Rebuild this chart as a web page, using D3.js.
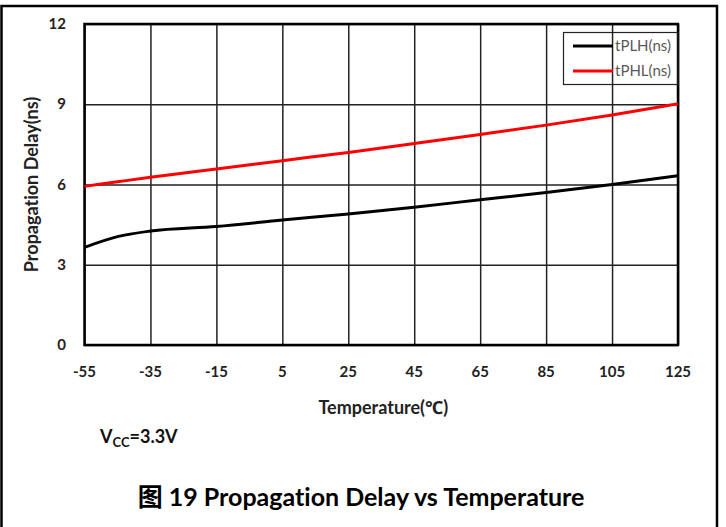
<!DOCTYPE html>
<html lang="en">
    <head>
        <meta charset="utf-8">
        <title>Propagation Delay vs Temperature</title>
        <script type="text/javascript" src="https://cdn.jsdelivr.net/npm/d3@7"></script>
        <style>
            body { margin: 0; background: #fff; }
            svg text { font-family: Lato, "Noto Sans", "Noto Sans CJK SC", sans-serif; font-variant-ligatures: none; }
        </style>
    </head>
    <body>
        <script type="text/javascript">
            //Width and height
            var w = 726;
            var h = 527;

            // values
            var temps = [-55, -45, -35, -15, 5, 25, 45, 65, 85, 105, 125];
            var tPLH = [3.65, 4.05, 4.26, 4.43, 4.67, 4.9, 5.15, 5.43, 5.7, 6.0, 6.33];
            var tPHL = [5.93, 6.1, 6.27, 6.58, 6.89, 7.2, 7.53, 7.87, 8.22, 8.6, 9.02];
            var xTicks = [-55, -35, -15, 5, 25, 45, 65, 85, 105, 125];
            var yTicks = [0, 3, 6, 9, 12];
            var seriesNames = ["tPLH(ns)", "tPHL(ns)"];
            var seriesColors = ["#000000", "#ff0000"];

            var plotLeft = 84.5, plotRight = 678, plotTop = 24, plotBottom = 345;

            var svg = d3.select("body").append("svg").attr("width", w).attr("height", h);

            // outer frame (no bottom edge visible)
            svg.append("path")
                .attr("d", "M1.5," + h + "V6H717V" + h)
                .attr("fill", "none")
                .attr("stroke", "#000")
                .attr("stroke-width", 2.5);

            var x = d3.scaleLinear().domain([-55, 125]).range([plotLeft, plotRight]);
            var y = d3.scaleLinear().domain([0, 12]).range([plotBottom, plotTop]);

            // grid lines
            svg.append("g")
                .attr("transform", "translate(0," + plotBottom + ")")
                .call(d3.axisBottom(x).tickValues(xTicks).tickSize(-(plotBottom - plotTop)).tickFormat(""))
                .call(function(g) { g.select(".domain").remove(); })
                .selectAll("line").attr("stroke", "#222").attr("stroke-width", 1.5);

            svg.append("g")
                .attr("transform", "translate(" + plotLeft + ",0)")
                .call(d3.axisLeft(y).tickValues(yTicks).tickSize(-(plotRight - plotLeft)).tickFormat(""))
                .call(function(g) { g.select(".domain").remove(); })
                .selectAll("line").attr("stroke", "#222").attr("stroke-width", 1.5);

            // plot border
            svg.append("rect")
                .attr("x", plotLeft).attr("y", plotTop)
                .attr("width", plotRight - plotLeft).attr("height", plotBottom - plotTop)
                .attr("fill", "none")
                .attr("stroke", "#000")
                .attr("stroke-width", 2.5);

            // tick labels
            svg.selectAll("text.xt")
                .data(xTicks)
                .enter()
                .append("text")
                .attr("class", "xt")
                .text(function(d) { return d; })
                .attr("x", function(d) { return x(d); })
                .attr("y", 377)
                .attr("text-anchor", "middle")
                .attr("font-size", "15px")
                .attr("font-weight", "bold")
                .attr("fill", "#222");

            svg.selectAll("text.yt")
                .data(yTicks)
                .enter()
                .append("text")
                .attr("class", "yt")
                .text(function(d) { return d; })
                .attr("x", 66)
                .attr("y", function(d) { return y(d) + 5; })
                .attr("text-anchor", "end")
                .attr("font-size", "15px")
                .attr("font-weight", "bold")
                .attr("fill", "#222");

            // axis titles
            svg.append("text")
                .text("Propagation Delay(ns)")
                .attr("transform", "translate(38," + ((plotTop + plotBottom) / 2) + ") rotate(-90)")
                .attr("text-anchor", "middle")
                .attr("font-size", "18px")
                .attr("font-weight", "bold")
                .attr("fill", "#222");

            svg.append("text")
                .text("Temperature(℃)")
                .attr("x", (plotLeft + plotRight) / 2 + 2)
                .attr("y", 414)
                .attr("text-anchor", "middle")
                .attr("font-size", "18px")
                .attr("font-weight", "bold")
                .attr("fill", "#222");

            // the two curves
            var line = d3.line()
                .x(function(d, i) { return x(temps[i]); })
                .y(function(d) { return y(d); })
                .curve(d3.curveMonotoneX);

            svg.selectAll("path.series")
                .data([tPLH, tPHL])
                .enter()
                .append("path")
                .attr("class", "series")
                .attr("d", line)
                .attr("fill", "none")
                .attr("stroke", function(d, i) { return seriesColors[i]; })
                .attr("stroke-width", 3);

            // legend
            svg.append("rect")
                .attr("x", 563.5).attr("y", 32.5)
                .attr("width", 114.5).attr("height", 52)
                .attr("fill", "none")
                .attr("stroke", "#222")
                .attr("stroke-width", 1.2);

            var legend = svg.selectAll("g.leg")
                .data(seriesNames)
                .enter()
                .append("g")
                .attr("class", "leg")
                .attr("transform", function(d, i) { return "translate(573," + (46 + i * 25) + ")"; });

            legend.append("line")
                .attr("x1", 0).attr("x2", 40)
                .attr("stroke", function(d, i) { return seriesColors[i]; })
                .attr("stroke-width", 3);

            legend.append("text")
                .text(function(d) { return d; })
                .attr("x", 42)
                .attr("y", 5)
                .attr("font-size", "15px")
                .attr("fill", "#595959");

            // notes below the chart
            var vcc = svg.append("text")
                .attr("x", 100)
                .attr("y", 443)
                .attr("font-size", "18px")
                .attr("font-weight", "bold")
                .attr("fill", "#111");
            vcc.append("tspan").text("V");
            vcc.append("tspan").text("CC").attr("font-size", "13px").attr("dy", 4);
            vcc.append("tspan").text("=3.3V").attr("dy", -4);

            svg.append("text")
                .text("图 19 Propagation Delay vs Temperature")
                .attr("x", 361)
                .attr("y", 506)
                .attr("text-anchor", "middle")
                .attr("font-size", "25px")
                .attr("font-weight", "bold")
                .attr("fill", "#000");
        </script>
    </body>
</html>
